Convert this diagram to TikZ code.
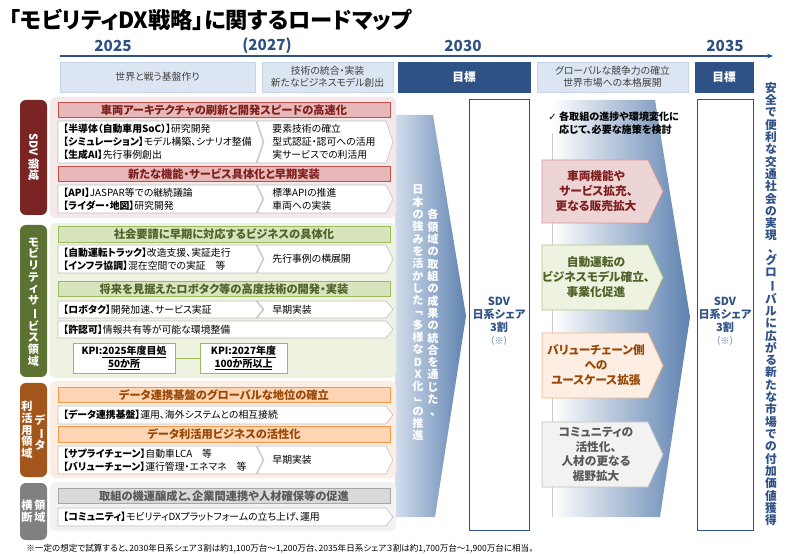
\documentclass[tikz,border=0pt]{standalone}
\usepackage{fontspec}
\setmainfont{Noto Sans CJK JP}[RawFeature=+palt]
\newfontfamily\symfont{DejaVu Sans}
\usepackage{graphicx}
\usepackage{xcolor}
\usetikzlibrary{arrows.meta}

\definecolor{navy}{HTML}{2F5286}
\definecolor{phasefill}{HTML}{DCE6F2}
\definecolor{phaseline}{HTML}{C5D5E8}
\definecolor{arrowlight}{HTML}{D3DEEC}
\definecolor{arrowdark}{HTML}{5E82B0}
\definecolor{sdvdark}{HTML}{7A2424}
\definecolor{sdvpanel}{HTML}{F4E8E8}
\definecolor{sdvbar}{HTML}{E6B9B8}
\definecolor{sdvline}{HTML}{C0504D}
\definecolor{sdvtext}{HTML}{7F1F1F}
\definecolor{mobdark}{HTML}{5B7232}
\definecolor{mobpanel}{HTML}{EDF2E1}
\definecolor{mobbar}{HTML}{D7E4BD}
\definecolor{mobline}{HTML}{9BBB59}
\definecolor{mobtext}{HTML}{4F6228}
\definecolor{datadark}{HTML}{A3561B}
\definecolor{datapanel}{HTML}{FDEEE3}
\definecolor{databar}{HTML}{FCD5B4}
\definecolor{dataline}{HTML}{F79646}
\definecolor{datatext}{HTML}{984807}
\definecolor{crossdark}{HTML}{808080}
\definecolor{crosspanel}{HTML}{F2F2F2}
\definecolor{crossbar}{HTML}{D9D9D9}
\definecolor{crossline}{HTML}{A6A6A6}
\definecolor{crosstext}{HTML}{595959}

% vertical (tategaki) text: one character per line
\ExplSyntaxOn
\seq_new:N \l_tate_seq
\NewDocumentCommand \tate { m }
 {
  \seq_clear:N \l_tate_seq
  \tl_map_inline:nn {#1}
   {
    \str_case:nnF {##1}
     {
      {ー}{ \seq_put_right:Nn \l_tate_seq { \rotatebox[origin=c]{-90}{ー} } }
      {「}{ \seq_put_right:Nn \l_tate_seq { \rotatebox[origin=c]{-90}{「} } }
      {」}{ \seq_put_right:Nn \l_tate_seq { \rotatebox[origin=c]{-90}{」} } }
     }
     { \seq_put_right:Nn \l_tate_seq {##1} }
   }
  \seq_use:Nn \l_tate_seq { \\ }
 }
\ExplSyntaxOff

% row shapes: plain left edge / notched left edge, pointed right
\newcommand{\rowA}[4]{%
  \draw[rowbox] (#1,#2) -- ({#3-7},#2) -- (#3,{(#2+#4)/2}) -- ({#3-7},#4) -- (#1,#4) -- cycle;}
\newcommand{\rowB}[4]{%
  \draw[rowbox] (#1,#2) -- ({#3-7},#2) -- (#3,{(#2+#4)/2}) -- ({#3-7},#4) -- (#1,#4) -- ({#1+7},{(#2+#4)/2}) -- cycle;}

\begin{document}
\begin{tikzpicture}[x=0.3mm, y=-0.3mm,
    every node/.style={inner sep=1pt},
    year/.style={font=\fontsize{13}{15}\selectfont\bfseries, text=navy},
    phasebox/.style={fill=phasefill, draw=phaseline, minimum height=9mm, align=center,
      font=\fontsize{8.4}{10.5}\selectfont, text=black!75},
    goalbox/.style={fill=navy, draw=navy, minimum height=9mm, text=white,
      font=\fontsize{10}{12}\selectfont\bfseries},
    hdrbar/.style={minimum width=99.6mm, minimum height=4.6mm, line width=0.6pt,
      font=\fontsize{9.6}{11}\selectfont\bfseries},
    rowbox/.style={fill=white, draw=black!25, line width=0.5pt},
    rowtxt/.style={anchor=west, align=left, font=\fontsize{8.4}{11.2}\selectfont},
    sidelbl/.style={align=center, text=white, font=\fontsize{9.5}{10}\selectfont\bfseries},
    kpibox/.style={fill=white, draw=mobline, minimum height=9mm, align=center,
      font=\fontsize{8.5}{11}\selectfont\bfseries},
    goalcol/.style={fill=white, draw=navy, line width=0.8pt, minimum height=129.3mm},
    sharetxt/.style={align=center, text=navy, font=\fontsize{9.5}{11}\selectfont\bfseries},
    resultbox/.style={line width=0.6pt},
    resulttxt/.style={align=center, font=\fontsize{10}{12.8}\selectfont\bfseries},
    tatetxt/.style={align=center, text=white, font=\fontsize{9.5}{10.5}\selectfont\bfseries},
  ]

  \useasboundingbox (0,0) rectangle (800,554);
  \fill[white] (0,0) rectangle (800,554);

  % Title and time axis
  \node[anchor=west, font=\fontsize{19}{22}\selectfont\bfseries] (title) at (8,20) {「モビリティDX戦略」に関するロードマップ};
  \node[year] (y2025) at (113,46) {2025};
  \node[year] (y2027) at (267,46) {(2027)};
  \node[year] (y2030) at (463,46) {2030};
  \node[year] (y2035) at (725,46) {2035};
  \coordinate (axisL) at (60,56);
  \coordinate (axisR) at (773,56);
  \draw[navy, line width=1pt, -{Stealth[length=5pt,width=4pt]}] (axisL) -- (axisR);

  % Phases
  \node[phasebox, minimum width=58.5mm] (phase1) at (157.5,77) {世界と戦う基盤作り};
  \node[phasebox, minimum width=39.3mm] (phase2) at (327.5,77) {技術の統合・実装\\新たなビジネスモデル創出};
  \node[goalbox, minimum width=39.6mm] (goal1) at (464,77) {目標};
  \node[phasebox, minimum width=45.3mm] (phase3) at (612.5,77) {グローバルな競争力の確立\\世界市場への本格展開};
  \node[goalbox, minimum width=17.4mm] (goal2) at (724,77) {目標};

  % Goal columns
  \node[goalcol, minimum width=18mm] (col1) at (499,314.5) {};
  \node[goalcol, minimum width=16.8mm] (col2) at (725,314.5) {};
  \node[sharetxt] (share1) at (499,321) {SDV\\日系シェア\\3割\\{\mdseries\color{navy!70}\fontsize{8}{11}\selectfont（※）}};
  \node[sharetxt] (share2) at (725,321) {SDV\\日系シェア\\3割\\{\mdseries\color{navy!70}\fontsize{8}{11}\selectfont（※）}};

  % Big arrows
  \shade[left color=arrowlight, right color=arrowdark] (395,115) -- (433,115) -- (466,316) -- (435,517) -- (395,517) -- cycle;
  \shade[left color=white, right color=arrowdark] (552,100) -- (655,100) -- (690,317) -- (660,517) -- (552,517) -- cycle;
  \draw[black!20] (552,133) -- (552,517);

  \node[tatetxt] (pushR) at (433,313) {\tate{各領域の取組の成果の統合を通じた、}};
  \node[tatetxt] (pushL) at (418,313) {\tate{日本の強みを活かした「多様なDX化」の推進}};

  % SDV domain
  \fill[sdvpanel, rounded corners=5] (50,97) rectangle (396,218);
  \fill[sdvdark, rounded corners=5] (20,100) rectangle (47,215);
  \node[sidelbl, rotate=-90] (sdvlbl) at (33.5,157) {SDV 領域};
  \node[hdrbar, fill=sdvbar, draw=sdvline, text=sdvtext] (sdvh1) at (224,110) {車両アーキテクチャの刷新と開発スピードの高速化};
  \rowA{58}{121}{263}{163}
  \rowB{257}{121}{393}{163}
  \node[rowtxt] (sdva1) at (62,142) {\textbf{【半導体（自動車用SoC）】}研究開発\\\textbf{【シミュレーション】}モデル構築、シナリオ整備\\\textbf{【生成AI】}先行事例創出};
  \node[rowtxt] (sdvb1) at (271,142) {要素技術の確立\\型式認証・認可への活用\\実サービスでの利活用};
  \node[hdrbar, fill=sdvbar, draw=sdvline, text=sdvtext] (sdvh2) at (224,174) {新たな機能・サービス具体化と早期実装};
  \rowA{58}{185}{263}{213}
  \rowB{257}{185}{393}{213}
  \node[rowtxt] (sdva2) at (62,199) {\textbf{【API】}JASPAR等での継続議論\\\textbf{【ライダー・地図】}研究開発};
  \node[rowtxt] (sdvb2) at (271,199) {標準APIの推進\\車両への実装};

  % Mobility service domain
  \fill[mobpanel, rounded corners=5] (50,223) rectangle (396,378);
  \fill[mobdark, rounded corners=5] (20,225) rectangle (47,377);
  \node[sidelbl] (moblbl) at (33.5,302) {\tate{モビリティサービス領域}};
  \node[hdrbar, fill=mobbar, draw=mobline, text=mobtext] (mobh1) at (224,234.5) {社会要請に早期に対応するビジネスの具体化};
  \rowA{58}{245}{263}{273}
  \rowB{257}{245}{393}{273}
  \node[rowtxt] (moba1) at (62,259) {\textbf{【自動運転トラック】}改造支援、実証走行\\\textbf{【インフラ協調】}混在空間での実証　等};
  \node[rowtxt] (mobb1) at (271,259) {先行事例の横展開};
  \node[hdrbar, fill=mobbar, draw=mobline, text=mobtext] (mobh2) at (224,289) {将来を見据えたロボタク等の高度技術の開発・実装};
  \rowA{58}{301}{263}{318}
  \rowB{257}{301}{393}{318}
  \node[rowtxt] (moba2) at (62,309.5) {\textbf{【ロボタク】}開発加速、サービス実証};
  \node[rowtxt] (mobb2) at (271,309.5) {早期実装};
  \rowA{58}{321}{393}{338}
  \node[rowtxt] (moba3) at (62,329.5) {\textbf{【許認可】}情報共有等が可能な環境整備};
  \node[kpibox, minimum width=30.6mm] (kpi1) at (124,358) {KPI:\underline{2025年度目処}\\\underline{50か所}};
  \node[kpibox, minimum width=26.1mm] (kpi2) at (243.5,358) {KPI:\underline{2027年度}\\\underline{100か所以上}};
  \draw[mobline, line width=0.8pt] (kpi1) -- (kpi2);

  % Data utilisation domain
  \fill[datapanel, rounded corners=5] (50,381) rectangle (396,478);
  \fill[datadark, rounded corners=5] (20,383) rectangle (47,477);
  \node[sidelbl] (datalblR) at (40,433) {\tate{データ}};
  \node[sidelbl] (datalblL) at (27,430) {\tate{利活用領域}};
  \node[hdrbar, fill=databar, draw=dataline, text=datatext] (datah1) at (224,395) {データ連携基盤のグローバルな地位の確立};
  \rowA{58}{406}{393}{424}
  \node[rowtxt] (dataa1) at (62,415) {\textbf{【データ連携基盤】}運用、海外システムとの相互接続};
  \node[hdrbar, fill=databar, draw=dataline, text=datatext] (datah2) at (224,434.5) {データ利活用ビジネスの活性化};
  \rowA{58}{446}{263}{474}
  \rowB{257}{446}{393}{474}
  \node[rowtxt] (dataa2) at (62,460) {\textbf{【サプライチェーン】}自動車LCA　等\\\textbf{【バリューチェーン】}運行管理・エネマネ　等};
  \node[rowtxt] (datab2) at (271,460) {早期実装};

  % Cross-domain
  \fill[crosspanel, rounded corners=5] (50,482) rectangle (396,531);
  \fill[crossdark, rounded corners=5] (20,483) rectangle (47,540);
  \node[sidelbl] (crosslblR) at (40,511) {\tate{領域}};
  \node[sidelbl] (crosslblL) at (27,511) {\tate{横断}};
  \node[hdrbar, fill=crossbar, draw=crossline, text=crosstext] (crossh1) at (224,496) {取組の機運醸成と、企業間連携や人材確保等の促進};
  \rowA{58}{508}{393}{526}
  \node[rowtxt] (crossa1) at (62,517) {\textbf{【コミュニティ】}モビリティDXプラットフォームの立ち上げ、運用};

  % Results after 2030
  \node[anchor=north west, align=left, font=\fontsize{8.6}{11}\selectfont\bfseries] (review) at (547,110) {{\symfont\mdseries ✓}\ 各取組の進捗や環境変化に\\\phantom{{\symfont ✓}\ }応じて、必要な施策を検討};
  \draw[resultbox, fill=sdvpanel!60!sdvbar, draw=sdvline!60] (542,160) -- (648,160) -- (663,191.5) -- (648,223) -- (542,223) -- cycle;
  \draw[resultbox, fill=mobpanel, draw=mobline!80] (542,245) -- (648,245) -- (663,277.5) -- (648,310) -- (542,310) -- cycle;
  \draw[resultbox, fill=datapanel, draw=dataline!70] (542,333) -- (648,333) -- (663,365.5) -- (648,398) -- (542,398) -- cycle;
  \draw[resultbox, fill=crosspanel, draw=crossline!70] (542,422) -- (648,422) -- (663,454.5) -- (648,487) -- (542,487) -- cycle;
  \node[resulttxt, text=sdvtext] (res1) at (596,191.5) {車両機能や\\サービス拡充、\\更なる販売拡大};
  \node[resulttxt, text=mobtext] (res2) at (596,277.5) {自動運転の\\ビジネスモデル確立、\\事業化促進};
  \node[resulttxt, text=datatext] (res3) at (596,365.5) {バリューチェーン側\\への\\ユースケース拡張};
  \node[resulttxt, text=crosstext, font=\fontsize{10}{12.4}\selectfont\bfseries] (res4) at (596,454.5) {コミュニティの\\活性化、\\人材の更なる\\裾野拡大};

  % Vision
  \node[align=center, text=navy, font=\fontsize{10}{10.5}\selectfont\bfseries] (vision) at (771,304) {\tate{安全で便利な交通社会の実現、グローバルに広がる新たな市場での付加価値獲得}};

  % Footnote
  \node[anchor=west, font=\fontsize{7.3}{9}\selectfont] (note) at (25,549) {※一定の想定で試算すると、2030年日系シェア３割は約1,100万台～1,200万台、2035年日系シェア３割は約1,700万台～1,900万台に相当。};

\end{tikzpicture}
\end{document}
